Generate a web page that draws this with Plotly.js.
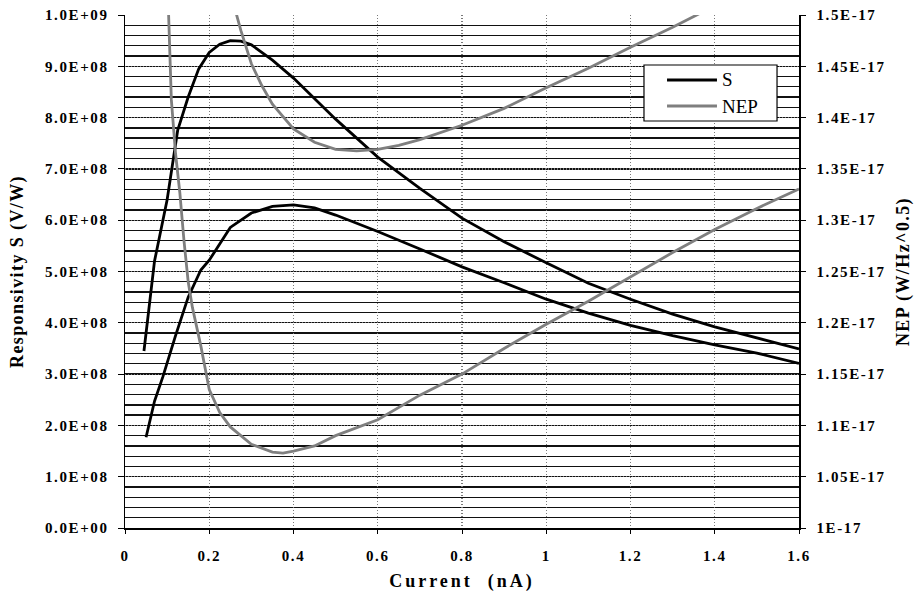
<!DOCTYPE html>
<html>
<head>
<meta charset="utf-8">
<script src="https://cdn.plot.ly/plotly-3.0.1.min.js"></script>
<style>
  html, body { margin: 0; padding: 0; background: #fff; }
  #chart { width: 914px; height: 595px; }
  .xtick text, .ytick text, .y2tick text { letter-spacing: 1.6px; }
  .ytitle, .y2title { letter-spacing: 1.4px; }
  .xtitle { letter-spacing: 3px; }
</style>
</head>
<body>
<div id="chart"></div>
<script>
// Bias current (nA) and responsivity S (V/W), higher-responsivity set
const currentSA = [0.045, 0.07, 0.1, 0.125, 0.15, 0.175, 0.2, 0.225, 0.25, 0.275, 0.3, 0.35, 0.4, 0.45, 0.5, 0.6, 0.7, 0.8, 0.9, 1.0, 1.1, 1.2, 1.3, 1.4, 1.5, 1.6];
const respSA = [3.45e8, 5.2e8, 6.4e8, 7.75e8, 8.4e8, 8.95e8, 9.27e8, 9.43e8, 9.5e8, 9.49e8, 9.42e8, 9.12e8, 8.77e8, 8.37e8, 7.97e8, 7.23e8, 6.62e8, 6.04e8, 5.58e8, 5.17e8, 4.77e8, 4.46e8, 4.17e8, 3.92e8, 3.71e8, 3.49e8];

// Responsivity S (V/W), lower-responsivity set
const currentSB = [0.05, 0.07, 0.09, 0.12, 0.15, 0.18, 0.2, 0.25, 0.3, 0.35, 0.4, 0.45, 0.5, 0.6, 0.7, 0.8, 0.9, 1.0, 1.1, 1.2, 1.3, 1.4, 1.5, 1.6];
const respSB = [1.77e8, 2.47e8, 2.95e8, 3.75e8, 4.5e8, 5.03e8, 5.22e8, 5.86e8, 6.14e8, 6.27e8, 6.3e8, 6.24e8, 6.1e8, 5.78e8, 5.44e8, 5.09e8, 4.78e8, 4.46e8, 4.19e8, 3.95e8, 3.75e8, 3.57e8, 3.41e8, 3.21e8];

// Noise equivalent power (W/Hz^0.5), set with the minimum near 0.55 nA
const currentNA = [0.25, 0.275, 0.3, 0.325, 0.35, 0.4, 0.45, 0.5, 0.55, 0.6, 0.65, 0.7, 0.8, 0.9, 1.0, 1.1, 1.2, 1.3, 1.4];
const nepNA = [1.5225e-17, 1.485e-17, 1.4525e-17, 1.431e-17, 1.413e-17, 1.389e-17, 1.376e-17, 1.369e-17, 1.3675e-17, 1.369e-17, 1.373e-17, 1.3785e-17, 1.3925e-17, 1.409e-17, 1.429e-17, 1.448e-17, 1.4685e-17, 1.488e-17, 1.509e-17];

// Noise equivalent power (W/Hz^0.5), set with the minimum near 0.37 nA
const currentNB = [0.1, 0.11, 0.12, 0.13, 0.14, 0.15, 0.16, 0.18, 0.2, 0.225, 0.25, 0.3, 0.35, 0.375, 0.4, 0.45, 0.5, 0.6, 0.7, 0.8, 0.9, 1.0, 1.1, 1.2, 1.3, 1.4, 1.5, 1.6];
const nepNB = [1.545e-17, 1.4175e-17, 1.365e-17, 1.3275e-17, 1.28e-17, 1.24e-17, 1.215e-17, 1.1775e-17, 1.135e-17, 1.1125e-17, 1.0985e-17, 1.0815e-17, 1.074e-17, 1.073e-17, 1.075e-17, 1.08e-17, 1.09e-17, 1.1055e-17, 1.1295e-17, 1.15e-17, 1.175e-17, 1.1985e-17, 1.221e-17, 1.245e-17, 1.2685e-17, 1.291e-17, 1.3115e-17, 1.3305e-17];

// Axis ticks
const xTickVals = [0, 0.2, 0.4, 0.6, 0.8, 1.0, 1.2, 1.4, 1.6];
const xTickText = ['0', '0.2', '0.4', '0.6', '0.8', '1', '1.2', '1.4', '1.6'];
const sTickVals = [0, 1e8, 2e8, 3e8, 4e8, 5e8, 6e8, 7e8, 8e8, 9e8, 1e9];
const sTickText = ['0.0E+00', '1.0E+08', '2.0E+08', '3.0E+08', '4.0E+08', '5.0E+08', '6.0E+08', '7.0E+08', '8.0E+08', '9.0E+08', '1.0E+09'];
const nepTickVals = [1e-17, 1.05e-17, 1.1e-17, 1.15e-17, 1.2e-17, 1.25e-17, 1.3e-17, 1.35e-17, 1.4e-17, 1.45e-17, 1.5e-17];
const nepTickText = ['1E-17', '1.05E-17', '1.1E-17', '1.15E-17', '1.2E-17', '1.25E-17', '1.3E-17', '1.35E-17', '1.4E-17', '1.45E-17', '1.5E-17'];

// Legend entries
const legendNames = ['S', 'NEP'];

const serif = 'Liberation Serif, Times New Roman, serif';
const sColor = '#000000';
const nepColor = '#7f7f7f';
const sLine = { color: sColor, width: 2.8 };
const nepLine = { color: nepColor, width: 2.8 };

const traces = [
  { x: currentSA, y: respSA, name: legendNames[0], mode: 'lines', line: sLine, yaxis: 'y' },
  { x: currentNA, y: nepNA, name: legendNames[1], mode: 'lines', line: nepLine, yaxis: 'y2' },
  { x: currentSB, y: respSB, name: legendNames[0], mode: 'lines', line: sLine, yaxis: 'y' },
  { x: currentNB, y: nepNB, name: legendNames[1], mode: 'lines', line: nepLine, yaxis: 'y2' }
];

// Boxed key in the upper right of the plot area (paper coordinates)
const key = { x0: 0.770, x1: 0.9674, y0: 0.7934, y1: 0.9025, lineX0: 0.8042, lineX1: 0.8783, textX: 0.8828, rows: [0.8733, 0.8226] };
const keyColors = [sColor, nepColor];

const shapes = [
  { type: 'rect', xref: 'paper', yref: 'paper', x0: key.x0, x1: key.x1, y0: key.y0, y1: key.y1,
    fillcolor: '#ffffff', line: { color: '#000000', width: 1.2 }, layer: 'above' }
];
const annotations = [];
legendNames.forEach((nm, i) => {
  shapes.push({ type: 'line', xref: 'paper', yref: 'paper', x0: key.lineX0, x1: key.lineX1,
    y0: key.rows[i], y1: key.rows[i], line: { color: keyColors[i], width: 2.8 }, layer: 'above' });
  annotations.push({ xref: 'paper', yref: 'paper', x: key.textX, y: key.rows[i], text: nm,
    xanchor: 'left', yanchor: 'middle', showarrow: false,
    font: { family: serif, size: 19, color: '#000' } });
});

const tickFont = { family: serif, size: 15, color: '#000', weight: 700 };
const titleFont = { family: serif, size: 18, color: '#000', weight: 700 };
const majorGrid = { showgrid: true, gridcolor: '#7a7a7a', gridwidth: 1.2, griddash: '1px,2px' };

const layout = {
  width: 914,
  height: 595,
  margin: { l: 125, r: 115, t: 15, b: 67, pad: 0 },
  paper_bgcolor: '#ffffff',
  plot_bgcolor: '#ffffff',
  showlegend: false,
  shapes: shapes,
  annotations: annotations,
  xaxis: Object.assign({
    range: [0, 1.6],
    tickvals: xTickVals, ticktext: xTickText,
    tickfont: tickFont,
    ticks: 'outside', ticklen: 4, tickwidth: 1, tickcolor: '#000',
    ticklabelstandoff: 9,
    showline: true, linecolor: '#000', linewidth: 1.5,
    zeroline: false,
    title: { text: 'Current  (nA)', font: titleFont, standoff: 12 }
  }, majorGrid),
  yaxis: Object.assign({
    range: [0, 1e9],
    tickvals: sTickVals, ticktext: sTickText,
    tickfont: tickFont,
    ticks: 'outside', ticklen: 6, tickwidth: 1, tickcolor: '#000',
    ticklabelstandoff: 6,
    showline: true, linecolor: '#000', linewidth: 1.5,
    minor: { dtick: 2e7, tick0: 0, showgrid: true, gridcolor: '#111111', gridwidth: 1.3, griddash: 'solid', ticks: '' },
    zeroline: false,
    title: { text: 'Responsivity S (V/W)', font: titleFont, standoff: 16 }
  }, majorGrid),
  yaxis2: {
    range: [1e-17, 1.5e-17],
    overlaying: 'y', side: 'right',
    tickvals: nepTickVals, ticktext: nepTickText,
    tickfont: tickFont,
    ticks: 'outside', ticklen: 5, tickwidth: 1, tickcolor: '#000',
    ticklabelstandoff: 8,
    showline: true, linecolor: '#000', linewidth: 1.5,
    showgrid: false, zeroline: false,
    title: { text: 'NEP (W/Hz^0.5)', font: titleFont, standoff: 12 }
  }
};

Plotly.newPlot('chart', traces, layout, { displayModeBar: false, staticPlot: true });
</script>
</body>
</html>
